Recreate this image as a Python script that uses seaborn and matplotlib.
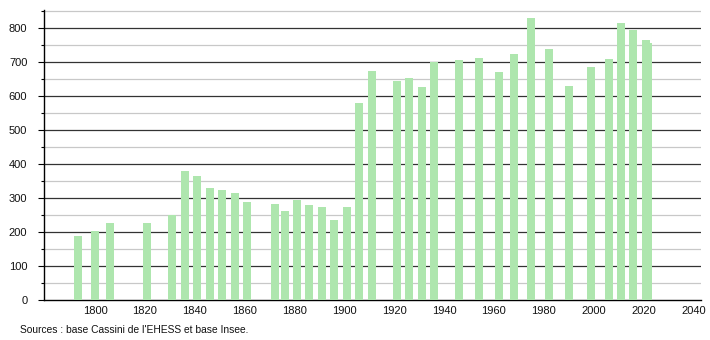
import matplotlib
matplotlib.use("Agg")
import matplotlib.pyplot as plt
from matplotlib.ticker import MultipleLocator
import seaborn as sns
import pandas as pd

years = [1793, 1800, 1806, 1821, 1831, 1836, 1841, 1846, 1851, 1856, 1861,
         1872, 1876, 1881, 1886, 1891, 1896, 1901, 1906, 1911, 1921, 1926,
         1931, 1936, 1946, 1954, 1962, 1968, 1975, 1982, 1990, 1999, 2006,
         2011, 2016, 2021, 2022]
population = [189, 204, 227, 227, 249, 379, 364, 330, 324, 315, 289,
              283, 263, 295, 280, 273, 236, 273, 580, 674, 643, 654,
              627, 700, 707, 713, 669, 722, 830, 739, 630, 685, 710,
              815, 795, 763, 756]
x_ticks = [1800, 1820, 1840, 1860, 1880, 1900, 1920, 1940, 1960, 1980, 2000, 2020, 2040]
y_ticks = [0, 100, 200, 300, 400, 500, 600, 700, 800]
source_text = "Sources : base Cassini de l'EHESS et base Insee."

df = pd.DataFrame({"year": years, "pop": population})

sns.set_style("white")
plt.rcParams["font.family"] = ["Liberation Sans", "DejaVu Sans"]

fig = plt.figure(figsize=(7.1, 3.4), dpi=100)
ax = fig.add_axes([0.062, 0.117, 0.925, 0.853])

sns.barplot(data=df, x="year", y="pop", native_scale=True, width=3.2,
            color="#aee6ae", saturation=1, linewidth=0, ax=ax, zorder=3,
            errorbar=None)

ax.set_xlim(1779.5, 2043)
ax.set_ylim(0, 852)
ax.set_xticks(x_ticks)
ax.set_xticklabels([str(t) for t in x_ticks])
ax.set_yticks(y_ticks)
ax.set_yticklabels([str(t) for t in y_ticks])
ax.yaxis.set_minor_locator(MultipleLocator(50))

ax.grid(False)
for v in range(50, 900, 100):
    ax.axhline(v, color="#c8c8c8", linewidth=0.9, zorder=1)
for v in y_ticks[1:]:
    ax.axhline(v, color="#333333", linewidth=0.9, zorder=2)

for s in ["top", "right"]:
    ax.spines[s].set_visible(False)
ax.spines["left"].set_color("black")
ax.spines["bottom"].set_color("black")
ax.spines["left"].set_linewidth(1.0)
ax.spines["bottom"].set_linewidth(1.0)

ax.tick_params(axis="y", which="major", length=4, width=0.8, color="black",
               left=True, labelsize=8, pad=8, labelcolor="#111111")
ax.tick_params(axis="y", which="minor", length=2.5, width=0.8, color="black", left=True)
ax.tick_params(axis="x", which="both", length=0, labelsize=8, pad=4, labelcolor="#111111")
ax.set_xlabel("")
ax.set_ylabel("")

fig.text(0.028, 0.022, source_text, fontsize=7.4, color="#111111")

fig.savefig("out.png", dpi=100)
